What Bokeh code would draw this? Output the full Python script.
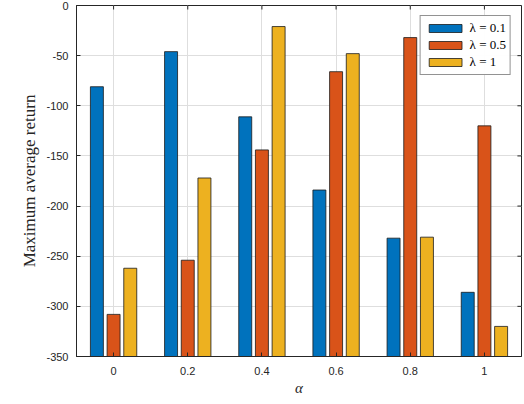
from bokeh.plotting import figure
from bokeh.models import (ColumnDataSource, Range1d, FixedTicker, Legend, LegendItem)
from bokeh.transform import dodge
from bokeh.embed import file_html
from bokeh.resources import INLINE

## data ##

alpha = [0, 0.2, 0.4, 0.6, 0.8, 1]
alpha_labels = ["0", "0.2", "0.4", "0.6", "0.8", "1"]
ret_01 = [-81, -46, -111, -184, -232, -286]
ret_05 = [-308, -254, -144, -66, -32, -120]
ret_1 = [-262, -172, -21, -48, -231, -320]
y_ticks = [-350, -300, -250, -200, -150, -100, -50, 0]

series = [("ret_01", "λ = 0.1", "#0072BD", -0.045),
          ("ret_05", "λ = 0.5", "#D95319", 0.0),
          ("ret_1", "λ = 1", "#EDB120", 0.045)]

source = ColumnDataSource(dict(alpha=alpha, ret_01=ret_01, ret_05=ret_05, ret_1=ret_1))

ink = "#262626"
tick_font = "Arial"
serif = "serif"
x_lo, x_hi = -0.1, 1.1
y_lo, y_hi = -350, 0

# bokeh's page template has no body margin, so the figure can fill the window
p = figure(width=524, height=404, output_backend="svg", toolbar_location=None,
           x_range=Range1d(x_lo, x_hi), y_range=Range1d(y_lo, y_hi),
           min_border_left=76, min_border_right=3, min_border_top=5,
           min_border_bottom=48)
p.background_fill_color = "white"
p.border_fill_color = "white"
p.outline_line_color = ink
p.outline_line_width = 1

items = []
for col, label, color, off in series:
    r = p.vbar(x=dodge("alpha", off, range=p.x_range), top=col, bottom=y_lo,
               width=0.035, source=source, fill_color=color,
               line_color="#1a1a1a", line_width=0.8)
    items.append(LegendItem(label=label, renderers=[r]))

# grid
p.xgrid.ticker = FixedTicker(ticks=alpha)
p.ygrid.ticker = FixedTicker(ticks=y_ticks)
for g in (p.xgrid[0], p.ygrid[0]):
    g.grid_line_color = "#dedede"
    g.grid_line_width = 1

# inward ticks on the top and right edges of the box (matlab style)
tick_dx = 0.011
tick_dy = 4
p.segment(x0=alpha, y0=[y_hi] * len(alpha), x1=alpha, y1=[y_hi - tick_dy] * len(alpha),
          line_color=ink, line_width=1)
p.segment(x0=[x_hi] * len(y_ticks), y0=y_ticks, x1=[x_hi - tick_dx] * len(y_ticks), y1=y_ticks,
          line_color=ink, line_width=1)

# axes
xa = p.xaxis[0]
xa.ticker = FixedTicker(ticks=alpha)
xa.major_label_overrides = {a: l for a, l in zip(alpha, alpha_labels)}
xa.axis_label = "α"
ya = p.yaxis[0]
ya.ticker = FixedTicker(ticks=y_ticks)
ya.major_label_overrides = {t: str(t) for t in y_ticks}
ya.axis_label = "Maximum average return"

for ax in (xa, ya):
    ax.axis_line_color = ink
    ax.major_tick_line_color = ink
    ax.major_tick_in = 4
    ax.major_tick_out = 0
    ax.minor_tick_line_color = None
    ax.major_label_text_font = tick_font
    ax.major_label_text_font_size = "11px"
    ax.major_label_text_color = ink
    ax.axis_label_text_font = serif
    ax.axis_label_text_color = ink
    ax.axis_label_text_font_style = "normal"
xa.major_label_standoff = 10
xa.axis_label_standoff = 2
xa.axis_label_text_font_style = "italic"
xa.axis_label_text_font_size = "15px"
ya.major_label_standoff = 8
ya.axis_label_standoff = 4
ya.axis_label_text_font_size = "17px"

legend = Legend(items=items, location="top_right")
legend.label_text_font = serif
legend.label_text_font_size = "13px"
legend.label_text_font_style = "normal"
legend.label_text_color = "black"
legend.glyph_width = 41
legend.glyph_height = 10
legend.spacing = 1
legend.padding = 4
legend.margin = 10
legend.label_standoff = 4
legend.label_height = 12
legend.border_line_color = ink
legend.border_line_width = 1
p.add_layout(legend)

open("out.html", "w").write(file_html(p, INLINE))
